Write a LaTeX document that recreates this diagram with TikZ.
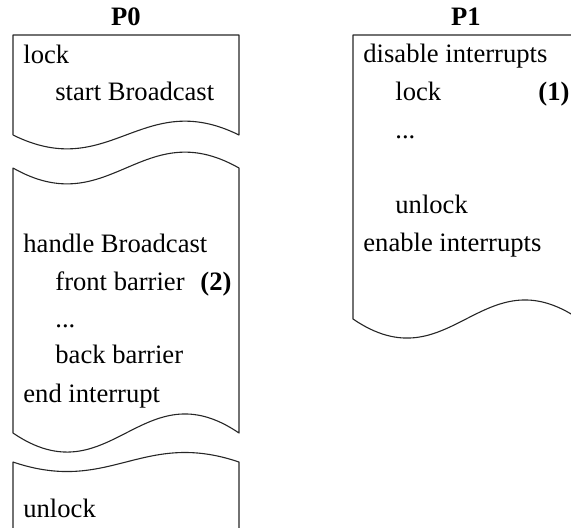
\documentclass[tikz,border=0pt]{standalone}
\usepackage{fontspec}
\setmainfont{Liberation Serif}
\begin{document}
\begin{tikzpicture}[x=0.5pt,y=-0.5pt,
  txt/.style={anchor=base west,inner sep=0pt,font=\fontsize{13.3}{16}\selectfont},
  ttl/.style={anchor=base,inner sep=0pt,font=\fontsize{13.3}{16}\selectfont\bfseries},
  num/.style={anchor=base west,inner sep=0pt,font=\fontsize{13.3}{16}\selectfont\bfseries},
  frame/.style={draw=black!85,line width=0.55pt,line join=round}]
\useasboundingbox (0,0) rectangle (571,527);
\clip (0,0) rectangle (571,527);

% P0 column: three torn pieces
\draw[frame] (13,135) -- (13,35) -- (239,35) -- (239,135)
  .. controls (142,87) and (110,183) .. (13,135);
\draw[frame] (13,433) -- (13,168) .. controls (110,223) and (142,113) .. (239,168)
  -- (239,433) .. controls (142,367) and (110,499) .. (13,433);
\draw[frame] (13,540) -- (13,462) .. controls (110,495) and (142,429) .. (239,462)
  -- (239,540);

% P1 column
\draw[frame] (353,319) -- (353,35) -- (579,35) -- (579,319)
  .. controls (482,253) and (450,385) .. (353,319);

% titles
\node[ttl] (t0) at (126,25) {P0};
\node[ttl] (t1) at (466,25) {P1};

% P0 text
\node[txt] (a1) at (23,63) {lock};
\node[txt] (a2) at (55,100) {start Broadcast};
\node[txt] (a3) at (23,252) {handle Broadcast};
\node[txt] (a4) at (55,290) {front barrier};
\node[num] (n2) at (200,290) {(2)};
\node[txt] (a5) at (55,327) {...};
\node[txt] (a6) at (55,363) {back barrier};
\node[txt] (a7) at (23,402) {end interrupt};
\node[txt] (a8) at (23,517) {unlock};

% P1 text
\node[txt] (b1) at (363,62) {disable interrupts};
\node[txt] (b2) at (395,100) {lock};
\node[num] (n1) at (538,100) {(1)};
\node[txt] (b3) at (395,138) {...};
\node[txt] (b4) at (395,213) {unlock};
\node[txt] (b5) at (363,251) {enable interrupts};
\end{tikzpicture}
\end{document}
